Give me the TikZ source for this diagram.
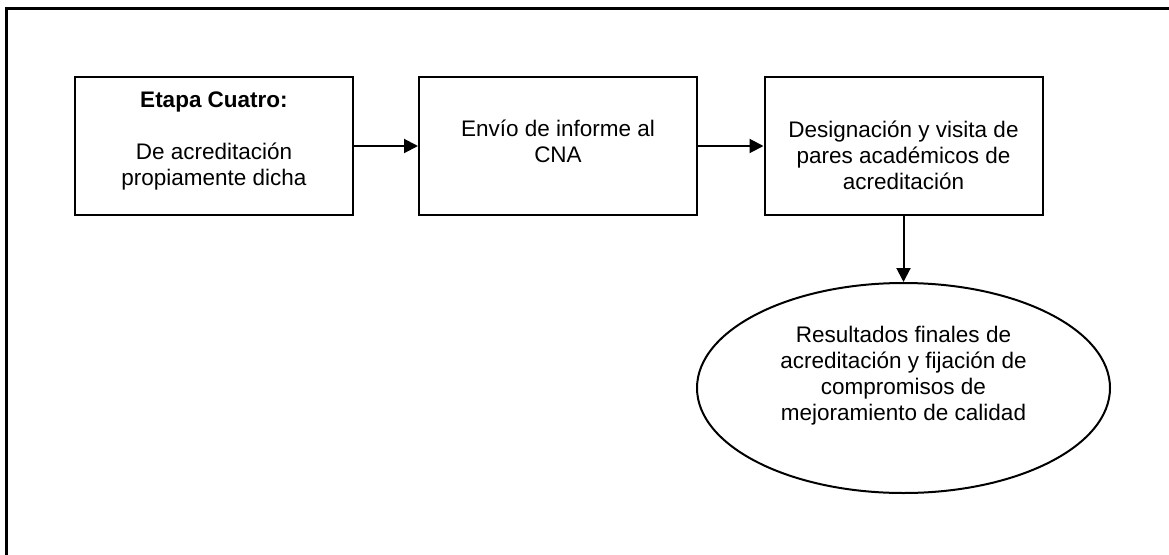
\documentclass[tikz,border=0pt]{standalone}
\usepackage{fontspec}
\setmainfont{Liberation Sans}
\usetikzlibrary{shapes.geometric,arrows.meta}
\begin{document}
\begin{tikzpicture}[x=1pt,y=-1pt,
  stagebox/.style={draw=black,line width=2pt,rectangle,inner sep=0pt,minimum width=278pt,minimum height=138pt},
  goal/.style={draw=black,line width=2pt,ellipse,inner sep=0pt,minimum width=413pt,minimum height=210pt},
  txt/.style={align=center,inner sep=0pt,font=\fontsize{22.5}{26}\selectfont},
  flow/.style={line width=2pt,-{Triangle[length=14pt,width=14pt]}}]
\useasboundingbox (0,0) rectangle (1169,554);
\clip (0,0) rectangle (1169,554);
% outer frame
\draw[line width=2.5pt] (6.5,8.5) rectangle (1190,580);
% stages
\node[stagebox] (b1) at (214,146) {};
\node[stagebox] (b2) at (558,146) {};
\node[stagebox] (b3) at (903.5,146) {};
\node[goal] (e) at (903.5,388) {};
% labels
\node[txt] (t1) at (214,141) {\textbf{Etapa Cuatro:}\\ \\ De acreditación\\ propiamente dicha};
\node[txt] (t2) at (558,141.5) {Envío de informe al\\ CNA};
\node[txt] (t3) at (903.5,155) {Designación y visita de\\ pares académicos de\\ acreditación};
\node[txt] (t4) at (903.5,376) {Resultados finales de\\ acreditación y fijación de\\ compromisos de\\ mejoramiento de calidad};
% connectors
\draw[flow] (b1) -- (b2);
\draw[flow] (b2) -- (b3);
\draw[flow] (b3) -- (e);
\end{tikzpicture}
\end{document}
